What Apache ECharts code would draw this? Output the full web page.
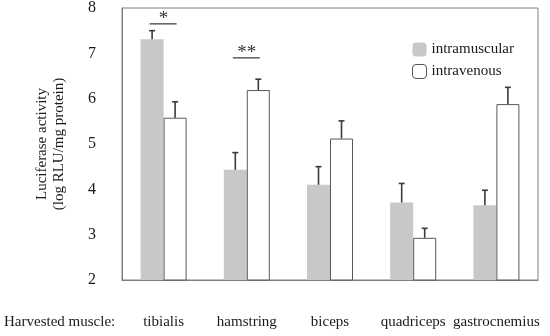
<!DOCTYPE html>
<html><head><meta charset="utf-8">
<script src="https://cdn.jsdelivr.net/npm/echarts@6/dist/echarts.min.js"></script>
<style>html,body{margin:0;padding:0;background:#fff}#c{width:550px;height:336px}</style>
</head><body><div id="c"></div>
<script>
var categories = ['tibialis', 'hamstring', 'biceps', 'quadriceps', 'gastrocnemius'];
var intramuscular = [7.31, 4.43, 4.10, 3.71, 3.65];
var intramuscularErrTop = [7.50, 4.81, 4.50, 4.13, 3.98];
var intravenous = [5.58, 6.19, 5.12, 2.93, 5.88];
var intravenousErrTop = [5.93, 6.43, 5.51, 3.14, 6.25];
var yTicks = [2, 3, 4, 5, 6, 7, 8];
var significance = [[0, 7.65, '*'], [1, 6.90, '**']];

var FONT = '"Liberation Serif", "Times New Roman", serif';
var BW = 23;
var TXT = '#1a1a1a';

var errData = [];
for (var i = 0; i < categories.length; i++) {
  errData.push([i, intramuscular[i], intramuscularErrTop[i], -1]);
  errData.push([i, intravenous[i], intravenousErrTop[i], 1]);
}

var chart = echarts.init(document.getElementById('c'), null, {renderer: 'canvas'});
chart.setOption({
  animation: false,
  textStyle: {fontFamily: FONT},
  grid: {left: 122, right: 12, top: 8, bottom: 56, show: true, borderColor: '#7f7f7f', borderWidth: 1, containLabel: false},
  legend: {
    orient: 'vertical', left: 407, top: 37, itemWidth: 14, itemHeight: 14, itemGap: 7,
    textStyle: {fontFamily: FONT, fontSize: 15, color: TXT},
    data: [
      {name: 'intramuscular', itemStyle: {color: '#c8c8c8', borderWidth: 0}},
      {name: 'intravenous', itemStyle: {color: '#fff', borderColor: '#555', borderWidth: 1}}
    ]
  },
  xAxis: {
    type: 'category', data: categories,
    axisLine: {show: true, lineStyle: {color: '#7f7f7f'}},
    axisTick: {show: false},
    axisLabel: {interval: 0, margin: 35, fontFamily: FONT, fontSize: 15, color: TXT}
  },
  yAxis: {
    type: 'value', min: yTicks[0], max: yTicks[yTicks.length - 1], interval: 1,
    splitLine: {show: false},
    axisLine: {show: true, lineStyle: {color: '#7f7f7f'}},
    axisTick: {show: false},
    axisLabel: {margin: 26, fontFamily: FONT, fontSize: 16, color: TXT},
    name: 'Luciferase activity\n(log RLU/mg protein)',
    nameLocation: 'middle', nameGap: 54, nameRotate: 90,
    nameTextStyle: {fontFamily: FONT, fontSize: 15, color: TXT, lineHeight: 17}
  },
  graphic: [{
    type: 'text', left: 4, top: 315,
    style: {text: 'Harvested muscle:', font: '15px ' + FONT, fill: TXT}
  }],
  series: [
    {name: 'intramuscular', type: 'bar', data: intramuscular, barWidth: BW, barGap: '0%',
     itemStyle: {color: '#c8c8c8'}},
    {name: 'intravenous', type: 'bar', data: intravenous, barWidth: BW, barGap: '0%',
     itemStyle: {color: '#fff', borderColor: '#595959', borderWidth: 1}},
    {type: 'custom', name: 'err', data: errData, z: 5, silent: true,
     renderItem: function (params, api) {
       var c = api.value(0), side = api.value(3);
       var base = api.coord([c, api.value(1)]);
       var top = api.coord([c, api.value(2)]);
       var x = base[0] + side * BW / 2;
       var st = {stroke: '#3a3a3a', lineWidth: 1.6};
       return {type: 'group', children: [
         {type: 'line', shape: {x1: x, y1: base[1], x2: x, y2: top[1]}, style: st},
         {type: 'line', shape: {x1: x - 3, y1: top[1], x2: x + 3, y2: top[1]}, style: st}
       ]};
     }},
    {type: 'custom', name: 'sig', data: significance, z: 5, silent: true,
     renderItem: function (params, api) {
       var p = api.coord([api.value(0), api.value(1)]);
       return {type: 'group', children: [
         {type: 'line', shape: {x1: p[0] - 14, y1: p[1], x2: p[0] + 13, y2: p[1]}, style: {stroke: '#333', lineWidth: 1.2}},
         {type: 'text', x: p[0], y: p[1] + 5, style: {text: significance[params.dataIndex][2], font: '19px ' + FONT, fill: '#333', align: 'center', verticalAlign: 'bottom'}}
       ]};
     }}
  ]
});
</script></body></html>
